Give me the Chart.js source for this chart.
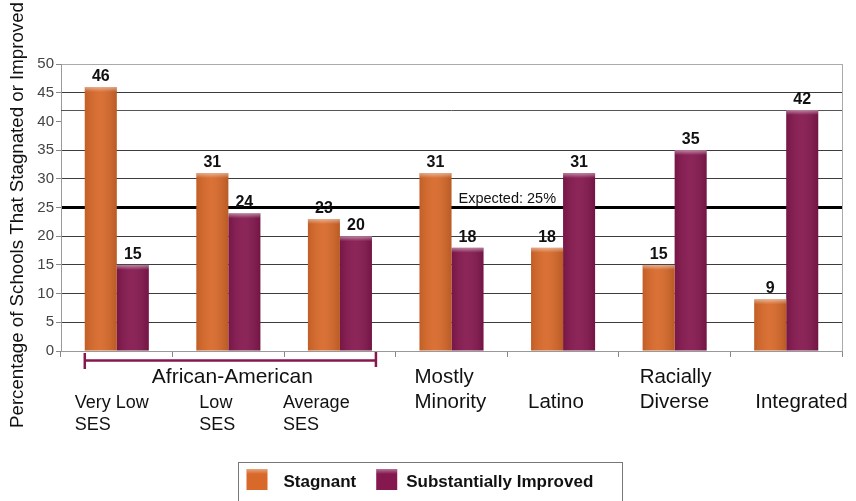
<!DOCTYPE html>
<html>
<head>
<meta charset="utf-8">
<script src="https://cdn.jsdelivr.net/npm/chart.js@4.4.1/dist/chart.umd.min.js"></script>
<style>
  html, body { margin: 0; padding: 0; background: #ffffff; }
  #wrap { width: 856px; height: 501px; position: relative; }
</style>
</head>
<body>
<div id="wrap"><canvas id="chart"></canvas></div>
<script>
// ---- data ----
const categories = ['Very Low SES', 'Low SES', 'Average SES', 'Mostly Minority', 'Latino', 'Racially Diverse', 'Integrated'];
const categoryLines = [
  ['', 'Very Low', 'SES'],
  ['', 'Low', 'SES'],
  ['', 'Average', 'SES'],
  ['Mostly', 'Minority'],
  ['', 'Latino'],
  ['Racially', 'Diverse'],
  ['', 'Integrated']
];
const groupLabel = 'African-American';
const groupFirst = 0;
const groupLast = 2;
const seriesNames = ['Stagnant', 'Substantially Improved'];
const stagnant = [46, 31, 23, 31, 18, 15, 9];
const improved = [15, 24, 20, 18, 31, 35, 42];
const expectedValue = 25;
const expectedLabel = 'Expected: 25%';
const extraGridValues = [42];
const hiddenGridValues = [40];
const yTitle = 'Percentage of Schools That Stagnated or Improved';

const FONT = "'Liberation Sans', Arial, Helvetica, sans-serif";
const ORANGE = '#D8692A';
const PURPLE = '#85184F';

const decorPlugin = {
  id: 'decor',
  beforeDatasetsDraw(chart) {
    const { ctx, chartArea, scales } = chart;
    ctx.save();
    // extra grid line(s)
    ctx.strokeStyle = '#555';
    ctx.lineWidth = 1;
    extraGridValues.forEach(v => {
      const y = Math.round(scales.y.getPixelForValue(v)) + 0.5;
      ctx.beginPath(); ctx.moveTo(chartArea.left, y); ctx.lineTo(chartArea.right, y); ctx.stroke();
    });
    // right border
    ctx.strokeStyle = '#aaa';
    ctx.beginPath();
    ctx.moveTo(chartArea.right + 0.5, chartArea.top);
    ctx.lineTo(chartArea.right + 0.5, chartArea.bottom);
    ctx.stroke();
    ctx.restore();
  },
  afterDatasetsDraw(chart) {
    const { ctx, chartArea, scales } = chart;
    ctx.save();
    // bar shading and data labels
    chart.data.datasets.forEach((ds, di) => {
      const meta = chart.getDatasetMeta(di);
      meta.data.forEach((el, i) => {
        const left = el.x - el.width / 2;
        const w = el.width;
        const top = el.y;
        const h = el.base - el.y;
        const g = ctx.createLinearGradient(left, 0, left + w, 0);
        g.addColorStop(0, 'rgba(0,0,0,0.10)');
        g.addColorStop(0.45, 'rgba(255,255,255,0.06)');
        g.addColorStop(1, 'rgba(0,0,0,0.14)');
        ctx.fillStyle = g;
        ctx.fillRect(left, top, w, h);
        const cap = ctx.createLinearGradient(0, top, 0, top + 5);
        cap.addColorStop(0, 'rgba(255,255,255,0.45)');
        cap.addColorStop(1, 'rgba(255,255,255,0)');
        ctx.fillStyle = cap;
        ctx.fillRect(left, top, w, Math.min(5, h));
        ctx.fillStyle = '#111';
        ctx.font = 'bold 16px ' + FONT;
        ctx.textAlign = 'center';
        ctx.textBaseline = 'alphabetic';
        ctx.fillText(String(ds.data[i]), el.x, el.y - 6);
      });
    });
    // expected label
    ctx.fillStyle = '#111';
    ctx.font = '14.5px ' + FONT;
    ctx.textAlign = 'center';
    ctx.textBaseline = 'alphabetic';
    ctx.fillText(expectedLabel, scales.x.getPixelForValue(3.5), scales.y.getPixelForValue(expectedValue) - 5);
    ctx.restore();
  },
  afterDraw(chart, args, opts) {
    const { ctx, chartArea, scales, width } = chart;
    const x = scales.x;
    ctx.save();
    // category labels
    ctx.fillStyle = '#111';
    ctx.textAlign = 'left';
    ctx.textBaseline = 'alphabetic';
    categoryLines.forEach((lines, i) => {
      const cx = x.getPixelForValue(i);
      ctx.font = opts.labelSizes[i] + 'px ' + FONT;
      lines.forEach((t, j) => {
        if (!t) return;
        ctx.fillText(t, cx + opts.labelOffsets[i], chartArea.bottom + opts.rowBaselines[j]);
      });
    });
    // group label + bracket
    const gl = x.getPixelForValue(groupFirst) - 32;
    const gr = x.getPixelForValue(groupLast) + 36;
    ctx.strokeStyle = PURPLE;
    ctx.lineWidth = 2.5;
    ctx.beginPath();
    ctx.moveTo(gl, chartArea.bottom + 9.5); ctx.lineTo(gr, chartArea.bottom + 9.5);
    ctx.moveTo(gl, chartArea.bottom + 2); ctx.lineTo(gl, chartArea.bottom + 18);
    ctx.moveTo(gr, chartArea.bottom + 1); ctx.lineTo(gr, chartArea.bottom + 16);
    ctx.stroke();
    ctx.font = '21px ' + FONT;
    ctx.textAlign = 'center';
    ctx.fillText(groupLabel, (x.getPixelForValue(groupFirst) + x.getPixelForValue(groupLast)) / 2 + 4, chartArea.bottom + opts.rowBaselines[0]);
    // y title
    ctx.save();
    ctx.translate(23, 215);
    ctx.rotate(-Math.PI / 2);
    ctx.font = '18.7px ' + FONT;
    ctx.textAlign = 'center';
    ctx.textBaseline = 'alphabetic';
    ctx.fillText(yTitle, 0, 0);
    ctx.restore();
    // legend
    const colors = [ORANGE, PURPLE];
    ctx.font = 'bold 17px ' + FONT;
    const tw = seriesNames.map(s => ctx.measureText(s).width);
    const boxW = 384;
    const boxL = Math.round(width / 2 + 2 - boxW / 2) + 0.5;
    const boxT = 462.5;
    ctx.strokeStyle = '#777';
    ctx.lineWidth = 1;
    ctx.strokeRect(boxL, boxT, boxW, 60);
    let cur = boxL + 8;
    const gapAfter = [16, 9];
    seriesNames.forEach((s, k) => {
      const sq = ctx.createLinearGradient(0, 469, 0, 490);
      sq.addColorStop(0, colors[k]);
      sq.addColorStop(1, colors[k]);
      ctx.fillStyle = colors[k];
      ctx.fillRect(cur, 469, 21, 21);
      const hl = ctx.createLinearGradient(0, 469, 0, 474);
      hl.addColorStop(0, 'rgba(255,255,255,0.4)');
      hl.addColorStop(1, 'rgba(255,255,255,0)');
      ctx.fillStyle = hl;
      ctx.fillRect(cur, 469, 21, 5);
      cur += 21 + gapAfter[k];
      ctx.fillStyle = '#111';
      ctx.textAlign = 'left';
      ctx.fillText(s, cur, 486.5);
      cur += tw[k] + 20;
    });
    ctx.restore();
  }
};

const gridColor = (ctx) => {
  const v = ctx.tick ? ctx.tick.value : null;
  if (v === 0) return 'rgba(0,0,0,0)';
  if (hiddenGridValues.includes(v)) return 'rgba(0,0,0,0)';
  if (v === expectedValue) return '#000';
  if (v === 50) return '#aaa';
  return '#3c3c3c';
};

new Chart(document.getElementById('chart'), {
  type: 'bar',
  data: {
    labels: categories,
    datasets: [
      { label: seriesNames[0], data: stagnant, backgroundColor: ORANGE, borderWidth: 0, categoryPercentage: 0.574, barPercentage: 1 },
      { label: seriesNames[1], data: improved, backgroundColor: PURPLE, borderWidth: 0, categoryPercentage: 0.574, barPercentage: 1 }
    ]
  },
  options: {
    responsive: true,
    maintainAspectRatio: false,
    animation: false,
    layout: { padding: { top: 64, right: 14, left: 0, bottom: 0 } },
    plugins: {
      legend: { display: false },
      tooltip: { enabled: false },
      decor: {
        labelOffsets: [-42, -29, -57, -37, -35, -35, -31],
        labelSizes: [18, 18, 18, 20.5, 20.5, 20.5, 20.5],
        rowBaselines: [32, 57, 79]
      }
    },
    scales: {
      x: {
        grid: { drawOnChartArea: false, offset: true, tickLength: 6, tickColor: '#888', color: '#888' },
        border: { color: '#999' },
        ticks: { display: false },
        afterFit: (s) => { s.height = 150; }
      },
      y: {
        min: 0, max: 50,
        ticks: { stepSize: 5, color: '#444', padding: 2, font: { family: FONT, size: 15 } },
        grid: { color: gridColor, lineWidth: (c) => (c.tick && c.tick.value === expectedValue ? 3 : 1), tickLength: 5, tickColor: '#888', tickWidth: 1 },
        border: { color: '#999' },
        afterFit: (s) => { s.width = 61; }
      }
    }
  },
  plugins: [decorPlugin]
});
</script>
</body>
</html>
